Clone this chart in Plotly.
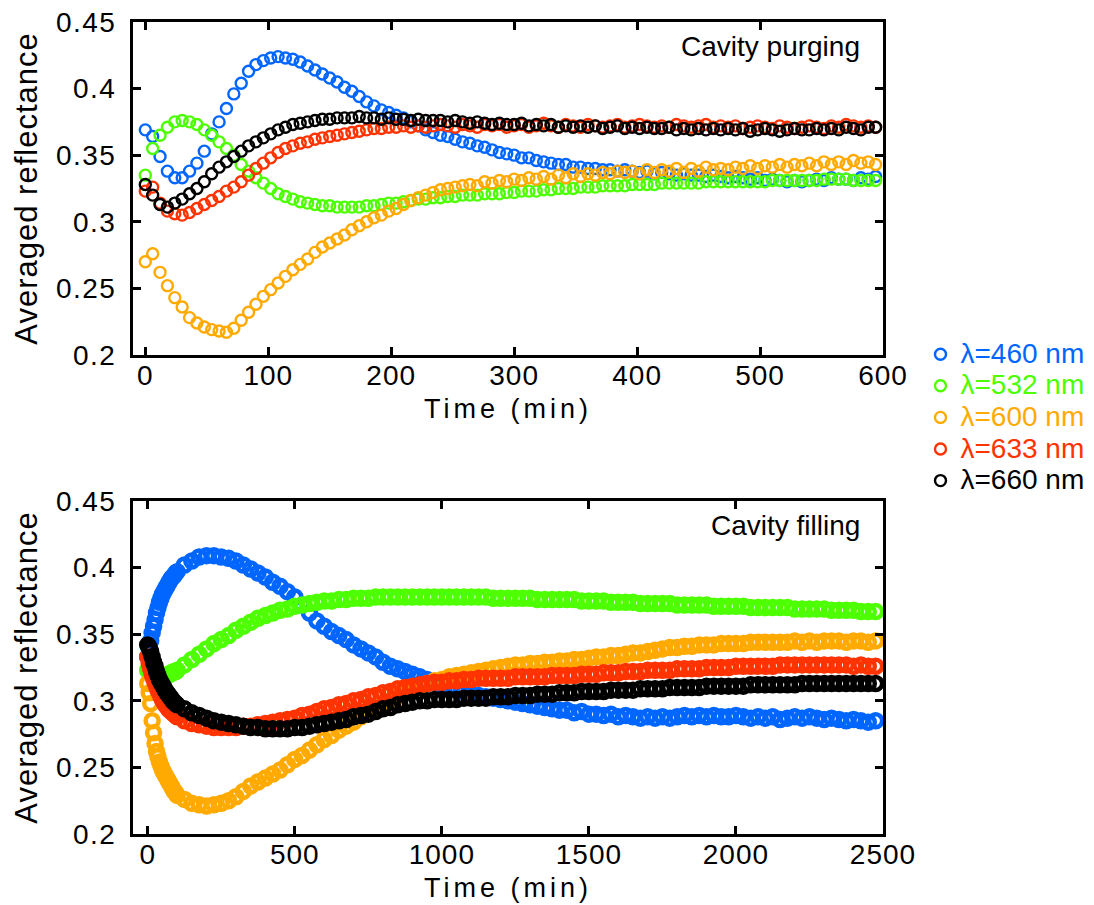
import plotly.graph_objects as go

# ---------------- data: Cavity purging (top) ----------------
time_purge = list(range(0, 595, 6))  # min

purge_460 = [
    0.369, 0.364, 0.349, 0.338, 0.333, 0.333, 0.338, 0.344, 0.353, 0.366,
    0.375, 0.385, 0.396, 0.404, 0.413, 0.418, 0.421, 0.423, 0.424, 0.423,
    0.422, 0.420, 0.417, 0.414, 0.411, 0.408, 0.405, 0.401, 0.398, 0.394,
    0.390, 0.387, 0.384, 0.382, 0.380, 0.378, 0.375, 0.372, 0.369, 0.367,
    0.365, 0.364, 0.362, 0.360, 0.359, 0.357, 0.356, 0.354, 0.352, 0.351,
    0.350, 0.348, 0.348, 0.346, 0.345, 0.344, 0.343, 0.343, 0.341, 0.341,
    0.340, 0.340, 0.339, 0.339, 0.338, 0.339, 0.338, 0.337, 0.338, 0.336,
    0.337, 0.336, 0.335, 0.336, 0.335, 0.335, 0.334, 0.335, 0.334, 0.333,
    0.334, 0.333, 0.332, 0.333, 0.331, 0.332, 0.331, 0.330, 0.331, 0.330,
    0.331, 0.332, 0.331, 0.333, 0.332, 0.332, 0.331, 0.333, 0.332, 0.334,
]
purge_532 = [
    0.335, 0.355, 0.365, 0.371, 0.375, 0.376, 0.375, 0.373, 0.369, 0.365,
    0.360, 0.355, 0.350, 0.343, 0.338, 0.333, 0.329, 0.325, 0.321, 0.319,
    0.317, 0.315, 0.314, 0.313, 0.312, 0.312, 0.311, 0.311, 0.311, 0.311,
    0.312, 0.312, 0.313, 0.314, 0.314, 0.315, 0.316, 0.317, 0.317, 0.318,
    0.318, 0.319, 0.319, 0.320, 0.320, 0.320, 0.321, 0.321, 0.321, 0.322,
    0.322, 0.323, 0.323, 0.323, 0.324, 0.324, 0.325, 0.325, 0.325, 0.326,
    0.326, 0.326, 0.327, 0.327, 0.327, 0.327, 0.328, 0.328, 0.328, 0.328,
    0.329, 0.329, 0.329, 0.329, 0.329, 0.329, 0.330, 0.330, 0.330, 0.330,
    0.330, 0.330, 0.330, 0.330, 0.330, 0.331, 0.331, 0.331, 0.331, 0.331,
    0.331, 0.331, 0.332, 0.332, 0.332, 0.332, 0.331, 0.331, 0.331, 0.331,
]
purge_600 = [
    0.270, 0.276, 0.262, 0.252, 0.243, 0.236, 0.228, 0.224, 0.221, 0.219,
    0.218, 0.217, 0.220, 0.226, 0.232, 0.238, 0.244, 0.249, 0.254, 0.259,
    0.264, 0.268, 0.272, 0.277, 0.281, 0.284, 0.287, 0.290, 0.294, 0.297,
    0.300, 0.303, 0.305, 0.308, 0.310, 0.313, 0.316, 0.318, 0.320, 0.322,
    0.324, 0.325, 0.326, 0.327, 0.328, 0.327, 0.330, 0.329, 0.331, 0.330,
    0.332, 0.331, 0.333, 0.332, 0.334, 0.332, 0.335, 0.333, 0.336, 0.334,
    0.336, 0.335, 0.337, 0.336, 0.338, 0.337, 0.338, 0.336, 0.339, 0.337,
    0.339, 0.338, 0.340, 0.337, 0.340, 0.338, 0.341, 0.339, 0.340, 0.339,
    0.341, 0.340, 0.342, 0.340, 0.342, 0.341, 0.343, 0.341, 0.343, 0.342,
    0.344, 0.342, 0.345, 0.343, 0.345, 0.343, 0.346, 0.344, 0.345, 0.343,
]
purge_633 = [
    0.323, 0.326, 0.314, 0.308, 0.306, 0.305, 0.307, 0.310, 0.313, 0.316,
    0.319, 0.323, 0.326, 0.330, 0.335, 0.340, 0.344, 0.348, 0.352, 0.355,
    0.357, 0.359, 0.360, 0.362, 0.363, 0.364, 0.365, 0.366, 0.367, 0.368,
    0.369, 0.370, 0.370, 0.371, 0.371, 0.372, 0.371, 0.372, 0.371, 0.372,
    0.373, 0.372, 0.371, 0.373, 0.372, 0.371, 0.373, 0.372, 0.373, 0.371,
    0.372, 0.373, 0.371, 0.372, 0.374, 0.372, 0.371, 0.373, 0.372, 0.371,
    0.373, 0.372, 0.371, 0.372, 0.373, 0.371, 0.372, 0.373, 0.372, 0.371,
    0.372, 0.371, 0.373, 0.372, 0.371, 0.372, 0.373, 0.371, 0.372, 0.371,
    0.372, 0.370, 0.371, 0.372, 0.371, 0.370, 0.372, 0.371, 0.370, 0.371,
    0.372, 0.371, 0.370, 0.372, 0.371, 0.373, 0.372, 0.371, 0.372, 0.371,
]
purge_660 = [
    0.328, 0.320, 0.313, 0.311, 0.314, 0.317, 0.321, 0.325, 0.330, 0.336,
    0.341, 0.345, 0.349, 0.353, 0.357, 0.360, 0.363, 0.366, 0.369, 0.371,
    0.373, 0.374, 0.375, 0.376, 0.377, 0.377, 0.378, 0.378, 0.378, 0.379,
    0.378, 0.378, 0.377, 0.378, 0.377, 0.377, 0.376, 0.377, 0.376, 0.376,
    0.376, 0.375, 0.376, 0.375, 0.374, 0.375, 0.374, 0.373, 0.374, 0.373,
    0.373, 0.374, 0.372, 0.373, 0.372, 0.373, 0.371, 0.372, 0.371, 0.372,
    0.371, 0.372, 0.370, 0.371, 0.372, 0.370, 0.371, 0.370, 0.371, 0.370,
    0.370, 0.371, 0.369, 0.370, 0.369, 0.370, 0.369, 0.370, 0.369, 0.370,
    0.369, 0.370, 0.368, 0.369, 0.370, 0.369, 0.368, 0.369, 0.370, 0.369,
    0.369, 0.370, 0.369, 0.370, 0.369, 0.371, 0.370, 0.369, 0.371, 0.371,
]

# ---------------- data: Cavity filling (bottom) ----------------
time_fill = list(range(0, 100, 5)) + list(range(100, 2476, 25))  # min

fill_460 = [
    0.333, 0.339, 0.345, 0.351, 0.356, 0.361, 0.366, 0.370, 0.374, 0.377,
    0.380, 0.382, 0.384, 0.386, 0.388, 0.390, 0.392, 0.393, 0.394, 0.396,
    0.397, 0.402, 0.405, 0.408, 0.409, 0.409, 0.408, 0.407, 0.405, 0.402,
    0.399, 0.396, 0.393, 0.389, 0.386, 0.382, 0.378, 0.372, 0.366, 0.360,
    0.356, 0.352, 0.349, 0.346, 0.342, 0.339, 0.336, 0.333, 0.329, 0.326,
    0.324, 0.322, 0.320, 0.318, 0.316, 0.314, 0.312, 0.310, 0.308, 0.307,
    0.305, 0.304, 0.303, 0.302, 0.301, 0.300, 0.299, 0.298, 0.297, 0.296,
    0.295, 0.294, 0.293, 0.293, 0.291, 0.292, 0.290, 0.290, 0.289, 0.290,
    0.288, 0.289, 0.288, 0.287, 0.288, 0.287, 0.288, 0.287, 0.288, 0.289,
    0.288, 0.289, 0.288, 0.289, 0.288, 0.288, 0.289, 0.288, 0.287, 0.288,
    0.287, 0.288, 0.286, 0.287, 0.288, 0.287, 0.288, 0.287, 0.286, 0.287,
    0.286, 0.285, 0.286, 0.285, 0.284, 0.285,
]
fill_532 = [
    0.323, 0.322, 0.321, 0.320, 0.319, 0.319, 0.318, 0.318, 0.318, 0.318,
    0.318, 0.319, 0.319, 0.319, 0.320, 0.320, 0.321, 0.321, 0.322, 0.322,
    0.323, 0.327, 0.331, 0.335, 0.339, 0.343, 0.346, 0.349, 0.353, 0.356,
    0.359, 0.362, 0.364, 0.366, 0.368, 0.369, 0.371, 0.372, 0.373, 0.374,
    0.375, 0.375, 0.376, 0.376, 0.377, 0.377, 0.377, 0.378, 0.378, 0.378,
    0.378, 0.378, 0.378, 0.378, 0.378, 0.378, 0.378, 0.378, 0.378, 0.378,
    0.378, 0.378, 0.378, 0.377, 0.377, 0.377, 0.377, 0.377, 0.377, 0.376,
    0.376, 0.376, 0.376, 0.376, 0.376, 0.375, 0.375, 0.375, 0.375, 0.374,
    0.374, 0.374, 0.374, 0.373, 0.373, 0.373, 0.373, 0.373, 0.372, 0.372,
    0.372, 0.372, 0.372, 0.371, 0.371, 0.371, 0.371, 0.371, 0.370, 0.370,
    0.370, 0.370, 0.370, 0.370, 0.369, 0.369, 0.369, 0.369, 0.369, 0.368,
    0.368, 0.368, 0.368, 0.367, 0.367, 0.367,
]
fill_600 = [
    0.313, 0.306, 0.298, 0.285, 0.276, 0.268, 0.262, 0.258, 0.254, 0.251,
    0.248, 0.246, 0.244, 0.242, 0.240, 0.238, 0.236, 0.234, 0.232, 0.231,
    0.229, 0.226, 0.223, 0.222, 0.221, 0.222, 0.223, 0.225, 0.228, 0.232,
    0.236, 0.239, 0.242, 0.245, 0.248, 0.252, 0.256, 0.259, 0.263, 0.267,
    0.271, 0.274, 0.278, 0.281, 0.284, 0.288, 0.291, 0.294, 0.297, 0.300,
    0.303, 0.306, 0.309, 0.311, 0.313, 0.315, 0.316, 0.318, 0.319, 0.320,
    0.321, 0.322, 0.323, 0.324, 0.325, 0.326, 0.327, 0.327, 0.328, 0.328,
    0.329, 0.329, 0.330, 0.330, 0.331, 0.331, 0.332, 0.333, 0.333, 0.334,
    0.334, 0.335, 0.336, 0.336, 0.337, 0.338, 0.339, 0.340, 0.340, 0.341,
    0.341, 0.342, 0.342, 0.342, 0.343, 0.343, 0.343, 0.343, 0.344, 0.344,
    0.344, 0.344, 0.344, 0.344, 0.345, 0.344, 0.345, 0.344, 0.345, 0.345,
    0.345, 0.344, 0.345, 0.345, 0.344, 0.345,
]
fill_633 = [
    0.333, 0.328, 0.324, 0.320, 0.317, 0.314, 0.311, 0.308, 0.306, 0.303,
    0.301, 0.299, 0.297, 0.296, 0.294, 0.293, 0.292, 0.291, 0.290, 0.289,
    0.288, 0.285, 0.283, 0.282, 0.281, 0.280, 0.280, 0.280, 0.280, 0.281,
    0.281, 0.282, 0.283, 0.284, 0.285, 0.286, 0.287, 0.289, 0.290, 0.292,
    0.294, 0.295, 0.297, 0.298, 0.300, 0.301, 0.303, 0.304, 0.306, 0.307,
    0.309, 0.310, 0.311, 0.312, 0.313, 0.314, 0.314, 0.315, 0.315, 0.316,
    0.316, 0.317, 0.317, 0.317, 0.317, 0.317, 0.318, 0.318, 0.318, 0.318,
    0.318, 0.319, 0.319, 0.319, 0.319, 0.320, 0.320, 0.320, 0.321, 0.321,
    0.321, 0.322, 0.322, 0.322, 0.323, 0.323, 0.323, 0.323, 0.324, 0.324,
    0.324, 0.324, 0.325, 0.325, 0.325, 0.325, 0.326, 0.326, 0.326, 0.326,
    0.326, 0.326, 0.327, 0.327, 0.327, 0.327, 0.327, 0.327, 0.327, 0.327,
    0.327, 0.327, 0.326, 0.327, 0.326, 0.326,
]
fill_660 = [
    0.342, 0.340, 0.337, 0.333, 0.329, 0.326, 0.322, 0.319, 0.316, 0.314,
    0.312, 0.310, 0.308, 0.306, 0.305, 0.303, 0.302, 0.300, 0.299, 0.298,
    0.297, 0.294, 0.291, 0.289, 0.287, 0.285, 0.284, 0.283, 0.282, 0.281,
    0.280, 0.280, 0.279, 0.279, 0.279, 0.279, 0.280, 0.280, 0.281, 0.282,
    0.283, 0.284, 0.285, 0.286, 0.288, 0.289, 0.290, 0.292, 0.294, 0.295,
    0.297, 0.298, 0.299, 0.300, 0.300, 0.301, 0.301, 0.301, 0.301, 0.302,
    0.302, 0.302, 0.302, 0.303, 0.303, 0.303, 0.304, 0.304, 0.304, 0.305,
    0.305, 0.305, 0.306, 0.306, 0.306, 0.307, 0.307, 0.307, 0.307, 0.308,
    0.308, 0.308, 0.308, 0.309, 0.309, 0.309, 0.309, 0.310, 0.310, 0.310,
    0.310, 0.310, 0.311, 0.311, 0.311, 0.311, 0.311, 0.311, 0.312, 0.312,
    0.312, 0.312, 0.312, 0.312, 0.312, 0.313, 0.313, 0.313, 0.313, 0.313,
    0.313, 0.313, 0.313, 0.313, 0.313, 0.313,
]

labels = ["λ=460 nm", "λ=532 nm", "λ=600 nm", "λ=633 nm", "λ=660 nm"]
colors = ["#0066FF", "#4DFF00", "#FFAA00", "#FF3300", "#000000"]
purge_series = [purge_460, purge_532, purge_600, purge_633, purge_660]
fill_series = [fill_460, fill_532, fill_600, fill_633, fill_660]

FONT = "Liberation Sans, Arial, Helvetica, sans-serif"

fig = go.Figure()
for lab, col, yv in zip(labels, colors, purge_series):
    fig.add_trace(go.Scatter(
        x=time_purge, y=yv, mode="markers", xaxis="x", yaxis="y",
        name=f"<span style='color:{col};font-size:28px'>{lab}</span>", legendgroup=lab,
        marker=dict(symbol="circle-open", size=11, color=col, line=dict(width=2.4, color=col)),
    ))
for lab, col, yv in zip(labels, colors, fill_series):
    fig.add_trace(go.Scatter(
        x=time_fill, y=yv, mode="markers", xaxis="x2", yaxis="y2",
        name=lab, legendgroup=lab, showlegend=False,
        marker=dict(symbol="circle-open", size=13, color=col, line=dict(width=4.5, color=col)),
    ))

axis_common = dict(
    showline=True, linecolor="black", linewidth=3, mirror="ticks",
    ticks="inside", ticklen=8, tickwidth=2.5, tickcolor="black",
    showgrid=False, zeroline=False, automargin=False, ticklabeloverflow="allow",
    tickfont=dict(family=FONT, size=28, color="black"),
)
xtitle = dict(text="Time (min)", font=dict(family=FONT, size=27), standoff=10)
ytitle = dict(text="Averaged reflectance", font=dict(family=FONT, size=31), standoff=16)
yticks = [0.2, 0.25, 0.3, 0.35, 0.4, 0.45]

fig.update_layout(
    width=1094, height=905,
    paper_bgcolor="white", plot_bgcolor="white",
    margin=dict(l=125, r=211, t=14, b=79),
    font=dict(family=FONT, color="black"),
    showlegend=True,
    legend=dict(
        x=1.05, y=0.6165, xanchor="left", yanchor="top",
        font=dict(family=FONT, size=22), itemwidth=30,
        bgcolor="rgba(0,0,0,0)", tracegroupgap=0,
    ),
    xaxis=dict(**axis_common, domain=[0, 1], anchor="y", range=[-10, 600],
               tickvals=[0, 100, 200, 300, 400, 500, 600], title=xtitle,
               ticklabelstandoff=-7),
    yaxis=dict(**axis_common, domain=[0.59, 1.0], anchor="x", range=[0.2, 0.45],
               tickvals=yticks, title=ytitle, ticklabelstandoff=8),
    xaxis2=dict(**axis_common, domain=[0, 1], anchor="y2", range=[-50, 2500],
                tickvals=[0, 500, 1000, 1500, 2000, 2500], title=xtitle,
                ticklabelstandoff=-7),
    yaxis2=dict(**axis_common, domain=[0.0, 0.41], anchor="x2", range=[0.2, 0.45],
                tickvals=yticks, title=ytitle, ticklabelstandoff=8),
    annotations=[
        dict(text="Cavity purging", xref="x domain", yref="y domain", x=0.972, y=0.927,
             xanchor="right", yanchor="middle", showarrow=False,
             font=dict(family=FONT, size=28, color="black")),
        dict(text="Cavity filling", xref="x2 domain", yref="y2 domain", x=0.972, y=0.927,
             xanchor="right", yanchor="middle", showarrow=False,
             font=dict(family=FONT, size=28, color="black")),
    ],
)

# letter spacing like the original typesetting (styling only; text stays real text)
css_js = """
var st = document.createElement('style');
st.textContent = '.xtitle, .x2title {letter-spacing: 4px;} ' +
  '.ytitle, .y2title {letter-spacing: 1px;} ' +
  '.xtick text, .x2tick text {letter-spacing: 1px;} ' +
  '.ytick text, .y2tick text {letter-spacing: 1.5px;}';
document.head.appendChild(st);
"""
fig.write_html("out.html", post_script=css_js)
